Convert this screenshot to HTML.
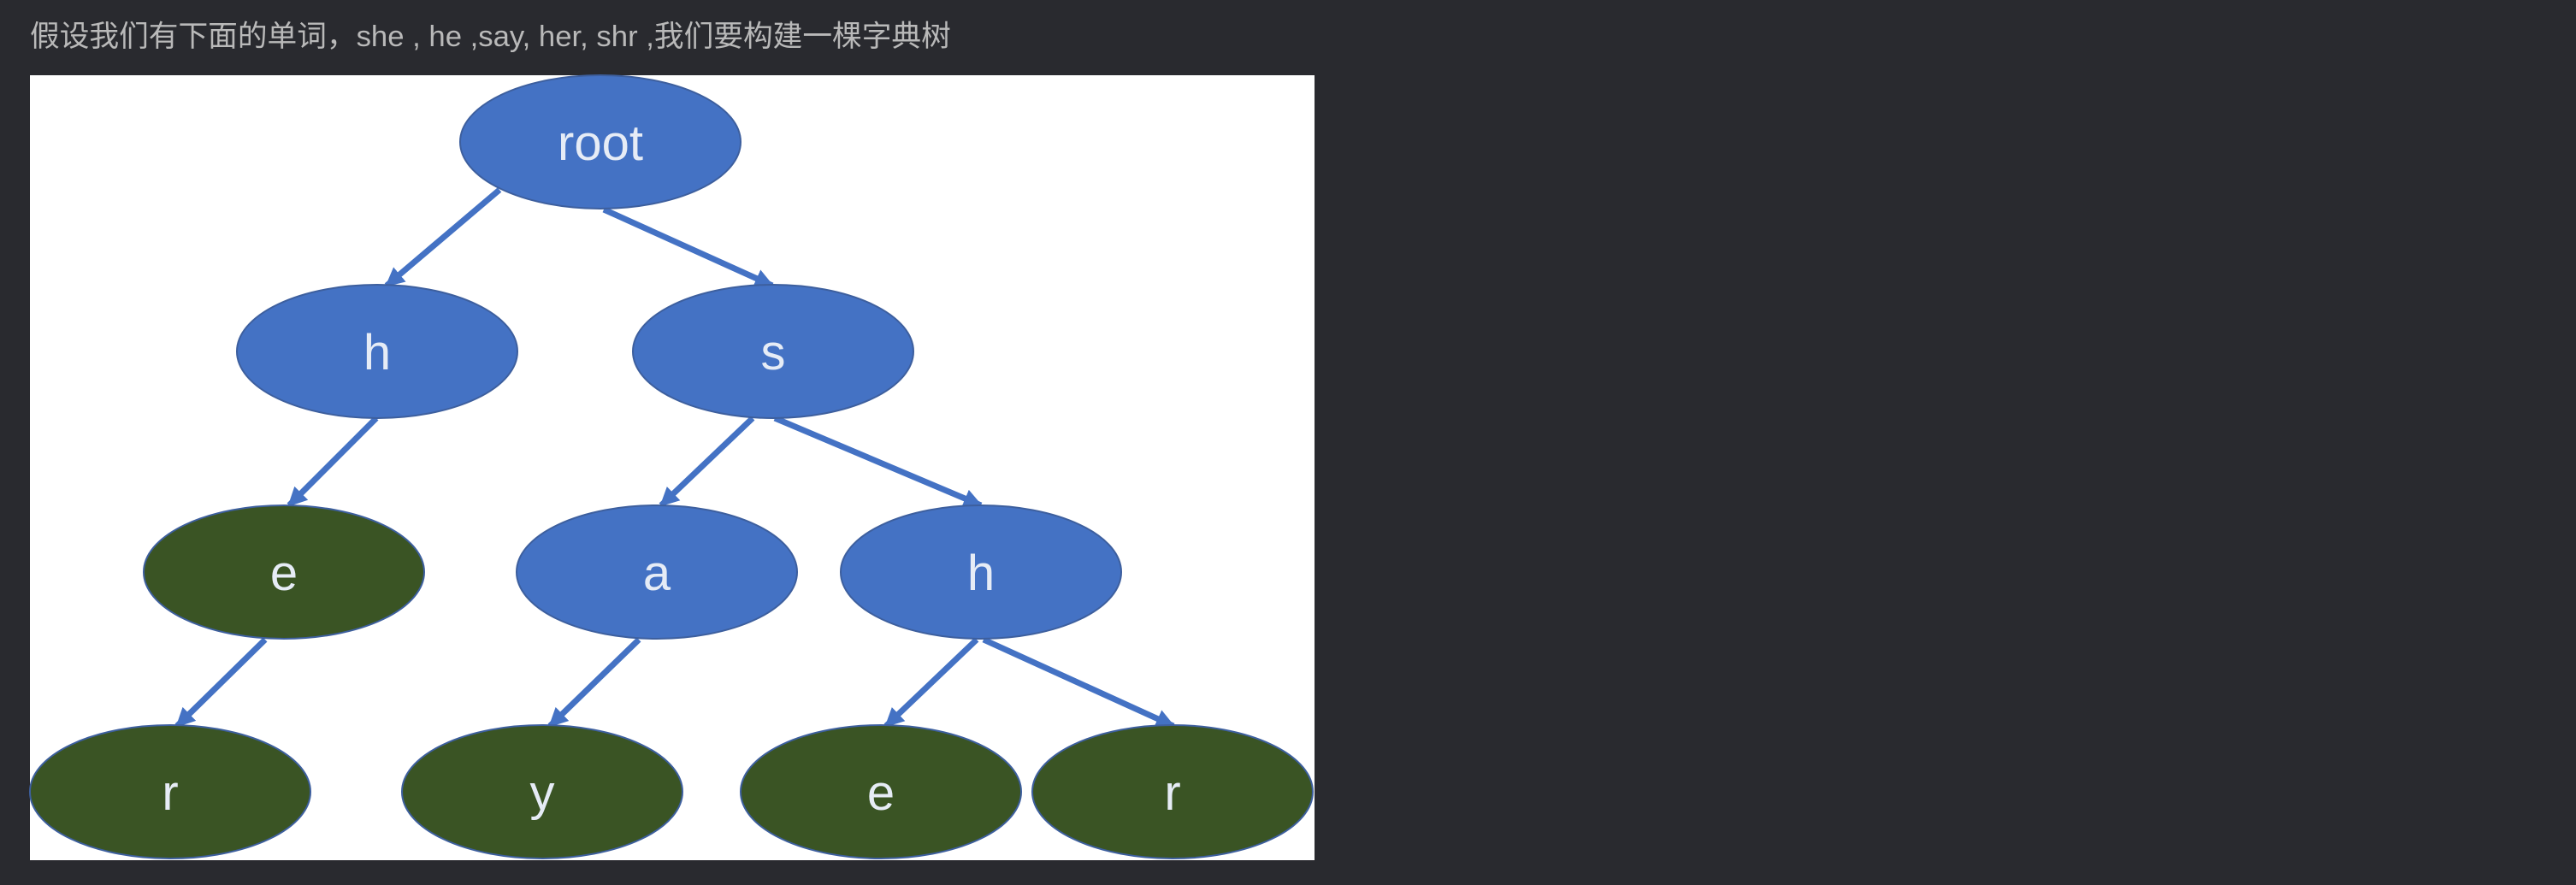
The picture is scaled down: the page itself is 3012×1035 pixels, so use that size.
<!DOCTYPE html>
<html><head><meta charset="utf-8"><style>
html,body{margin:0;padding:0;background:#292a2f;width:3012px;height:1035px;overflow:hidden}
.t{position:absolute;left:35px;top:14px;font:34.7px "Liberation Sans","Noto Sans CJK SC",sans-serif;color:#b9b9b9;white-space:nowrap}
svg{position:absolute;left:0;top:0}
</style></head><body>
<div class="t">假设我们有下面的单词，she , he ,say, her, shr ,我们要构建一棵字典树</div>
<svg width="3012" height="1035" xmlns="http://www.w3.org/2000/svg">
<defs><marker id="a" viewBox="0 0 10 10" refX="9" refY="5" markerWidth="3.2" markerHeight="3.2" orient="auto"><path d="M0,0 L10,5 L0,10 z" fill="#4472c4"/></marker></defs>
<rect x="35" y="88" width="1502" height="918" fill="#fff"/>
<g stroke="#4472c4" stroke-width="7" marker-end="url(#a)">
<line x1="584" y1="222" x2="452" y2="334"/>
<line x1="706" y1="245" x2="903" y2="334"/>
<line x1="440" y1="489" x2="338" y2="591"/>
<line x1="880" y1="489" x2="773" y2="591"/>
<line x1="906" y1="489" x2="1147" y2="591"/>
<line x1="310" y1="748" x2="207" y2="849"/>
<line x1="747" y1="748" x2="643" y2="849"/>
<line x1="1142" y1="748" x2="1036" y2="849"/>
<line x1="1150" y1="748" x2="1372" y2="849"/>
</g>
<g stroke="#3d5f9e" stroke-width="2">
<ellipse cx="702" cy="166" rx="164" ry="78" fill="#4472c4"/>
<ellipse cx="441" cy="411" rx="164" ry="78" fill="#4472c4"/>
<ellipse cx="904" cy="411" rx="164" ry="78" fill="#4472c4"/>
<ellipse cx="332" cy="669" rx="164" ry="78" fill="#3a5424"/>
<ellipse cx="768" cy="669" rx="164" ry="78" fill="#4472c4"/>
<ellipse cx="1147" cy="669" rx="164" ry="78" fill="#4472c4"/>
<ellipse cx="199" cy="926" rx="164" ry="78" fill="#3a5424"/>
<ellipse cx="634" cy="926" rx="164" ry="78" fill="#3a5424"/>
<ellipse cx="1030" cy="926" rx="164" ry="78" fill="#3a5424"/>
<ellipse cx="1371" cy="926" rx="164" ry="78" fill="#3a5424"/>
</g>
<g font-family="Liberation Sans, sans-serif" font-size="58" fill="#e6ecf6" text-anchor="middle">
<text x="702" y="187">root</text>
<text x="441" y="432">h</text>
<text x="904" y="432">s</text>
<text x="332" y="690">e</text>
<text x="768" y="690">a</text>
<text x="1147" y="690">h</text>
<text x="199" y="947">r</text>
<text x="634" y="947">y</text>
<text x="1030" y="947">e</text>
<text x="1371" y="947">r</text>
</g>
</svg>
</body></html>
